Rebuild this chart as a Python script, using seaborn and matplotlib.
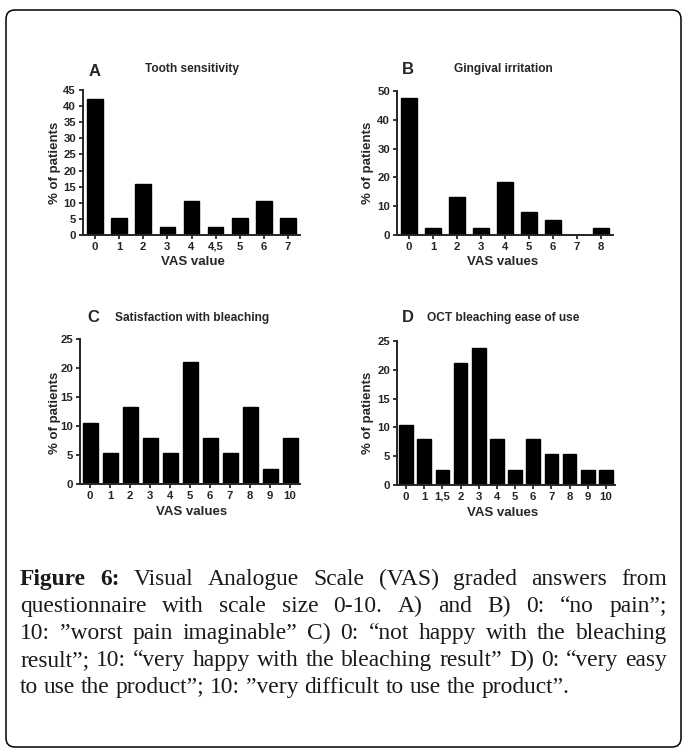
import matplotlib
matplotlib.use("Agg")
import matplotlib.pyplot as plt
import seaborn as sns
from matplotlib.patches import FancyBboxPatch

# data (% of patients per VAS value)
a_labels = ["0", "1", "2", "3", "4", "4,5", "5", "6", "7"]
a_vals = [42.1, 5.3, 15.8, 2.6, 10.5, 2.6, 5.3, 10.5, 5.3]

b_labels = ["0", "1", "2", "3", "4", "5", "6", "7", "8"]
b_vals = [47.4, 2.6, 13.2, 2.6, 18.4, 7.9, 5.3, 0.0, 2.6]

c_labels = ["0", "1", "2", "3", "4", "5", "6", "7", "8", "9", "10"]
c_vals = [10.5, 5.3, 13.2, 7.9, 5.3, 21.1, 7.9, 5.3, 13.2, 2.6, 7.9]

d_labels = ["0", "1", "1,5", "2", "3", "4", "5", "6", "7", "8", "9", "10"]
d_vals = [10.5, 7.9, 2.6, 21.1, 23.7, 7.9, 2.6, 7.9, 5.3, 5.3, 2.6, 2.6]

caption_lines = [
    "Figure 6: Visual Analogue Scale (VAS) graded answers from",
    "questionnaire with scale size 0-10. A) and B) 0: \u201cno pain\u201d;",
    "10: \u201dworst pain imaginable\u201d C) 0: \u201cnot happy with the bleaching",
    "result\u201d; 10: \u201cvery happy with the bleaching result\u201d D) 0: \u201cvery easy",
    "to use the product\u201d; 10: \u201dvery difficult to use the product\u201d.",
]

W, H = 690, 754
sns.set_style("ticks")
plt.rcParams["font.family"] = ["Liberation Sans", "DejaVu Sans"]

fig = plt.figure(figsize=(W / 100, H / 100), dpi=100)


def fx(x):
    return x / W


def fy(y):
    return 1 - y / H


def draw_panel(rect, labels, vals, ymax, ystep, width, letter, title, xlab,
               letter_xy, title_xy, xlab_xy, ylab_xy):
    l, t, r, b = rect
    ax = fig.add_axes([fx(l), fy(b), (r - l) / W, (b - t) / H])
    sns.barplot(x=labels, y=vals, color="black", edgecolor="black",
                saturation=1, width=width, linewidth=1.0, ax=ax)
    ax.set_xlim(-0.5, len(labels) - 0.5)
    ax.set_ylim(0, ymax)
    ax.set_yticks(range(0, ymax + 1, ystep))
    ax.set_xlabel("")
    ax.set_ylabel("")
    for s in ["top", "right"]:
        ax.spines[s].set_visible(False)
    for s in ["left", "bottom"]:
        ax.spines[s].set_linewidth(1.4)
    ax.tick_params(length=3, width=1.3, pad=2, labelsize=8.2, direction="out")
    for lab in ax.get_xticklabels() + ax.get_yticklabels():
        lab.set_fontweight("bold")
    fig.text(fx(letter_xy[0]), fy(letter_xy[1]), letter, fontsize=12,
             fontweight="bold", ha="center", va="center")
    fig.text(fx(title_xy[0]), fy(title_xy[1]), title, fontsize=8.6,
             fontweight="bold", ha="center", va="center")
    fig.text(fx(xlab_xy[0]), fy(xlab_xy[1]), xlab, fontsize=9.5,
             fontweight="bold", ha="center", va="center")
    fig.text(fx(ylab_xy[0]), fy(ylab_xy[1]), "% of patients", fontsize=9.5,
             fontweight="bold", ha="center", va="center", rotation=90)
    return ax


draw_panel((83, 90, 300, 235), a_labels, a_vals, 45, 5, 0.65, "A",
           "Tooth sensitivity", "VAS value",
           (95, 71), (192, 69), (193, 262), (55, 163))
draw_panel((397, 91, 613, 235), b_labels, b_vals, 50, 10, 0.63, "B",
           "Gingival irritation", "VAS values",
           (408, 69), (503, 69), (503, 262), (368, 163))
draw_panel((80, 339, 300, 484), c_labels, c_vals, 25, 5, 0.75, "C",
           "Satisfaction with bleaching", "VAS values",
           (93, 318), (192, 318), (192, 512), (55, 413))
draw_panel((397, 341, 615, 485), d_labels, d_vals, 25, 5, 0.75, "D",
           "OCT bleaching ease of use", "VAS values",
           (408, 318), (503, 318), (503, 513), (368, 413))

# rounded frame around figure
frame = FancyBboxPatch((6, H - 747), 675, 737,
                       boxstyle="round,pad=0,rounding_size=9",
                       fill=False, edgecolor="black", linewidth=1.1,
                       transform=None)
fig.add_artist(frame)

# caption, justified like the journal text
serif = ["Liberation Serif", "DejaVu Serif"]
renderer = fig.canvas.get_renderer()


def text_w(s, fs, weight="normal"):
    t = fig.text(0, 0, s, fontsize=fs, family=serif, fontweight=weight)
    w = t.get_window_extent(renderer).width
    t.remove()
    return w


fs0 = 14
fs = fs0 * 552 / text_w(caption_lines[-1], fs0)
space = text_w("a a", fs) - text_w("aa", fs)
x_left, x_right = 20, 667
base0, step = 585, 27

for i, line in enumerate(caption_lines):
    words = line.split(" ")
    weights = ["normal"] * len(words)
    if i == 0:
        weights[0] = weights[1] = "bold"
    widths = [text_w(w, fs, wt) for w, wt in zip(words, weights)]
    if i < len(caption_lines) - 1:
        gap = (x_right - x_left - sum(widths)) / (len(words) - 1)
    else:
        gap = space
    x = x_left
    for w, wt, wd in zip(words, weights, widths):
        fig.text(fx(x), fy(base0 + i * step), w, fontsize=fs, family=serif,
                 fontweight=wt, va="baseline", ha="left", color="#1a1a1a")
        x += wd + gap

fig.savefig("out.png", dpi=100)
